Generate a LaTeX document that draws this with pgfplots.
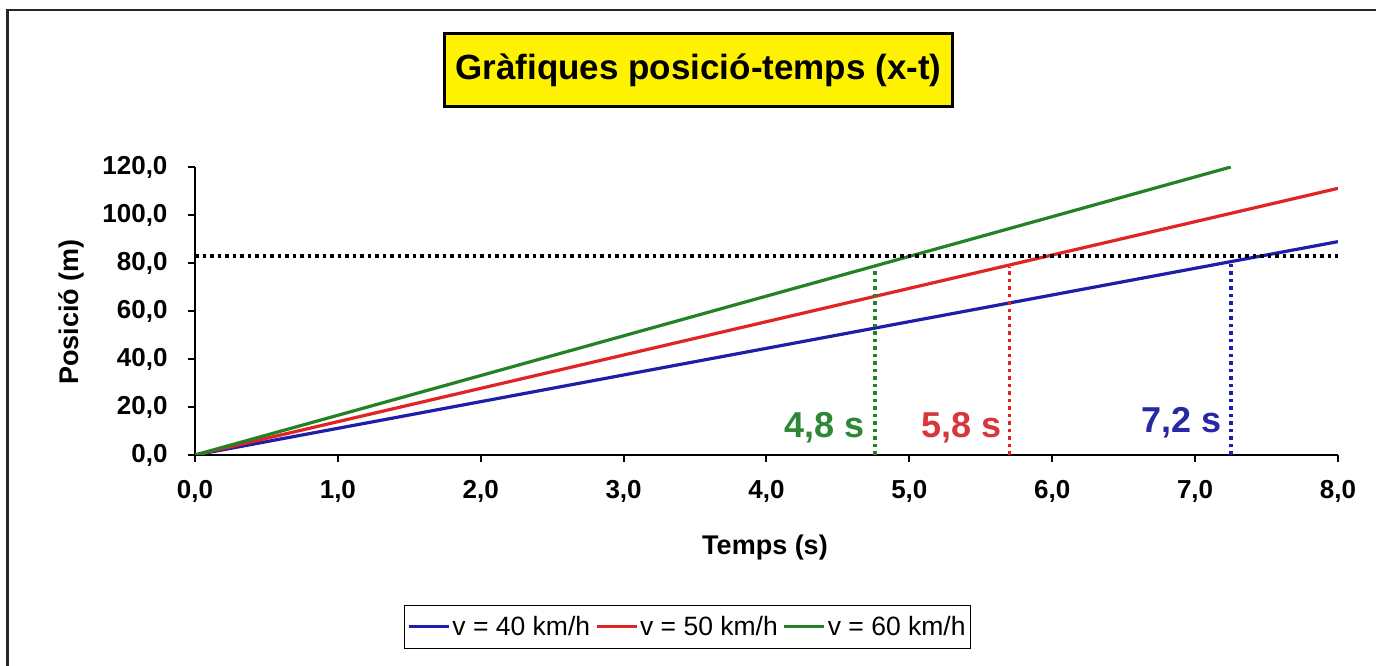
\documentclass[border=0pt]{standalone}
\usepackage{pgfplots}
\pgfplotsset{compat=1.18}
\usepackage{fontspec}
\setmainfont{Liberation Sans}
\definecolor{cblue}{RGB}{30,30,170}
\definecolor{cred}{RGB}{225,35,35}
\definecolor{cgreen}{RGB}{35,130,35}
\definecolor{tgreen}{RGB}{45,135,55}
\definecolor{tred}{RGB}{215,55,60}
\definecolor{tblue}{RGB}{40,40,165}
\begin{document}
\begin{tikzpicture}[x=1pt,y=1pt]
\useasboundingbox (0,0) rectangle (1376,666);
\clip (0,0) rectangle (1376,666);
\fill[white] (0,0) rectangle (1376,666);
\draw[line width=2.5pt, black!85] (7.5,-30) rectangle (1420,656);
\node[fill=yellow, draw=black, line width=3pt, minimum width=508pt, minimum height=73pt, inner sep=0pt,
      font=\bfseries\fontsize{35}{40}\selectfont] at (698.5,596) {Gràfiques posició-temps (x-t)};
\begin{axis}[
  at={(195pt,211pt)}, anchor=south west,
  scale only axis, width=1143pt, height=288pt,
  xmin=0, xmax=8, ymin=0, ymax=120,
  axis x line*=bottom, axis y line*=left,
  axis line style={line width=2pt, -},
  xtick={0,1,...,8}, ytick={0,20,...,120},
  tick align=outside, major tick length=7pt,
  tick style={line width=2pt, black},
  /pgf/number format/.cd, fixed, fixed zerofill, precision=1, use comma, assume math mode=true,
  /pgfplots/.cd,
  ticklabel style={font=\bfseries\fontsize{26}{30}\selectfont},
  xticklabel style={anchor=center, yshift=-29pt},
  yticklabel style={anchor=east, xshift=-17pt},
  legend columns=3,
  legend style={at={(0.4309,-0.597)}, anchor=center, draw=black, line width=1.5pt,
    font=\fontsize{26.5}{30}\selectfont, inner xsep=3pt, inner ysep=9pt,
    /tikz/every even column/.append style={column sep=3pt}},
  legend image code/.code={\draw[#1, line width=3pt] (0pt,0pt) -- (40pt,0pt);},
  clip=true,
]
\addplot[cblue, line width=3.2pt] coordinates {(0,0) (8,88.9)};
\addlegendentry{v = 40 km/h}
\addplot[cred, line width=3.2pt] coordinates {(0,0) (8,111.1)};
\addlegendentry{v = 50 km/h}
\addplot[cgreen, line width=3.2pt] coordinates {(0,0) (7.25,120)};
\addlegendentry{v = 60 km/h}
\addplot[forget plot, black, line width=3.5pt, dash pattern=on 3.5pt off 4pt] coordinates {(0,83) (8,83)};
\addplot[forget plot, cgreen, line width=3.5pt, dash pattern=on 3.5pt off 4pt] coordinates {(4.76,0) (4.76,79)};
\addplot[forget plot, cred, line width=3.5pt, dash pattern=on 3.5pt off 4pt] coordinates {(5.70,0) (5.70,78.5)};
\addplot[forget plot, cblue, line width=3.5pt, dash pattern=on 3.5pt off 4pt] coordinates {(7.25,0) (7.25,80.5)};
\node[anchor=east, text=tgreen, font=\bfseries\fontsize{36}{40}\selectfont, inner sep=0pt] at (axis cs:4.69,11.3) {4,8 s};
\node[anchor=east, text=tred, font=\bfseries\fontsize{36}{40}\selectfont, inner sep=0pt] at (axis cs:5.65,11.3) {5,8 s};
\node[anchor=east, text=tblue, font=\bfseries\fontsize{36}{40}\selectfont, inner sep=0pt] at (axis cs:7.19,13.4) {7,2 s};
\end{axis}
\node[font=\bfseries\fontsize{27}{30}\selectfont] at (765,118) {Temps (s)};
\node[font=\bfseries\fontsize{27}{30}\selectfont, rotate=90] at (71,354) {Posició (m)};
\end{tikzpicture}
\end{document}
